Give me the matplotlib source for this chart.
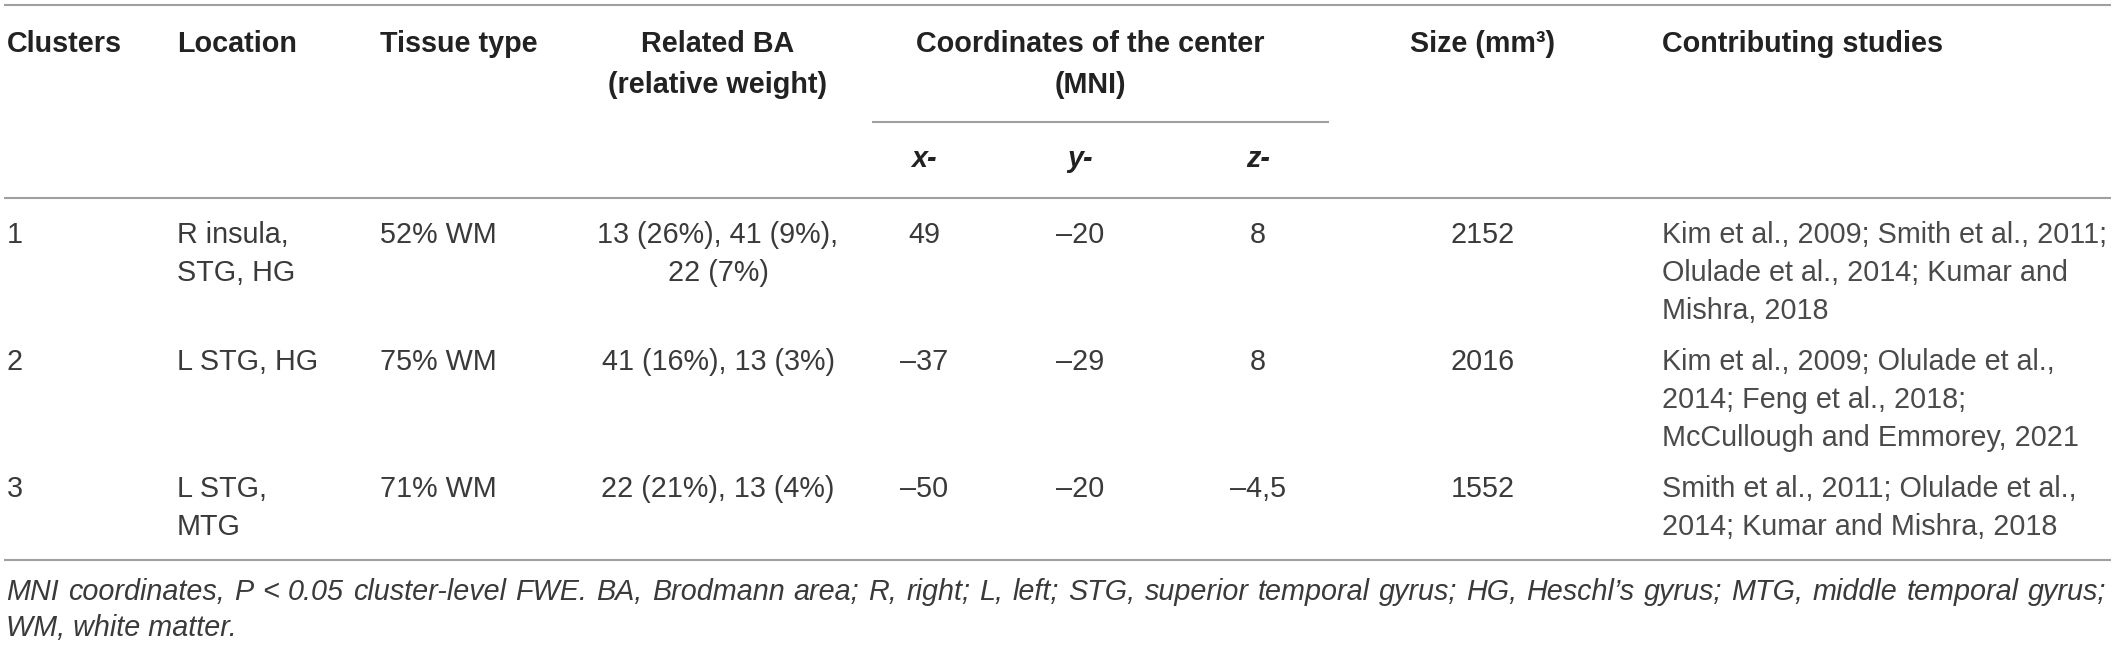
import matplotlib
matplotlib.use("Agg")
import matplotlib.pyplot as plt

plt.rcParams["font.family"] = ["Liberation Sans", "DejaVu Sans"]

# table content
headers = ["Clusters", "Location", "Tissue type", "Related BA\n(relative weight)",
           "Coordinates of the center\n(MNI)", "Size (mm³)", "Contributing studies"]
coord_axes = ["x-", "y-", "z-"]
clusters = ["1", "2", "3"]
locations = ["R insula,\nSTG, HG", "L STG, HG", "L STG,\nMTG"]
tissue = ["52% WM", "75% WM", "71% WM"]
related_ba = ["13 (26%), 41 (9%),\n22 (7%)", "41 (16%), 13 (3%)", "22 (21%), 13 (4%)"]
x_center = [49, -37, -50]
y_center = [-20, -29, -20]
z_center = [8, 8, -4.5]
sizes = [2152, 2016, 1552]
studies = [
    "Kim et al., 2009; Smith et al., 2011;\nOlulade et al., 2014; Kumar and\nMishra, 2018",
    "Kim et al., 2009; Olulade et al.,\n2014; Feng et al., 2018;\nMcCullough and Emmorey, 2021",
    "Smith et al., 2011; Olulade et al.,\n2014; Kumar and Mishra, 2018",
]
footnote = [
    "MNI coordinates, P < 0.05 cluster-level FWE. BA, Brodmann area; R, right; L, left; "
    "STG, superior temporal gyrus; HG, Heschl’s gyrus; MTG, middle temporal gyrus;",
    "WM, white matter.",
]

W, H = 2117, 645
FS = 20.7
LINE = 38
HALF_CAP = 10
TXT = "#3a3a3a"
HEAD = "#222222"
RULE = "#a0a0a0"


def fmt(v):
    s = f"{abs(v):g}".replace(".", ",")
    return ("–" + s) if v < 0 else s


fig = plt.figure(figsize=(W / 100, H / 100), dpi=100)
ax = fig.add_axes([0, 0, 1, 1])
ax.set_xlim(0, W)
ax.set_ylim(H, 0)
ax.axis("off")


def cell(x, y, text, ha="left", **kw):
    for i, line in enumerate(text.split("\n")):
        ax.text(x, y + i * LINE + HALF_CAP, line, ha=ha, va="baseline",
                fontsize=FS, **kw)


# rules
for y in (5, 198, 560):
    ax.plot([4, 2111], [y, y], color=RULE, lw=1.5, solid_capstyle="butt")
ax.plot([872, 1329], [122, 122], color=RULE, lw=1.5, solid_capstyle="butt")

# headers
col_x = [7, 177, 380, 718, 1090, 1483, 1662]
col_ha = ["left", "left", "left", "center", "center", "center", "left"]
for x, ha, h in zip(col_x, col_ha, headers):
    for i, line in enumerate(h.split("\n")):
        ax.text(x, 42 + i * 41 + HALF_CAP, line, ha=ha, va="baseline",
                fontsize=FS, fontweight="bold", color=HEAD)

coord_x = [924, 1080, 1258]
for x, lab in zip(coord_x, coord_axes):
    ax.text(x, 157 + HALF_CAP, lab, ha="center", va="baseline", fontsize=FS,
            fontweight="bold", fontstyle="italic", color=HEAD)

# body rows
row_y = [233, 360, 487]
for r, y in enumerate(row_y):
    cell(col_x[0], y, clusters[r], color=TXT)
    cell(col_x[1], y, locations[r], color=TXT)
    cell(col_x[2], y, tissue[r], color=TXT)
    cell(col_x[3], y, related_ba[r], ha="center", color=TXT)
    for x, v in zip(coord_x, (x_center[r], y_center[r], z_center[r])):
        cell(x, y, fmt(v), ha="center", color=TXT)
    cell(col_x[5], y, str(sizes[r]), ha="center", color=TXT)
    cell(col_x[6], y, studies[r], color="#4a4a4a")

# footnote, first line justified
fig.canvas.draw()
renderer = fig.canvas.get_renderer()
words = footnote[0].split(" ")
arts = [ax.text(0, 590 + HALF_CAP, w, fontsize=FS, fontstyle="italic",
                color=TXT, va="baseline") for w in words]
widths = [a.get_window_extent(renderer).width for a in arts]
left, right = 6, 2106
gap = (right - left - sum(widths)) / (len(words) - 1)
x = left
for a, w in zip(arts, widths):
    a.set_x(x)
    x += w + gap
ax.text(left, 626 + HALF_CAP, footnote[1], fontsize=FS, fontstyle="italic",
        color=TXT, va="baseline")

fig.savefig("out.png", dpi=100)
